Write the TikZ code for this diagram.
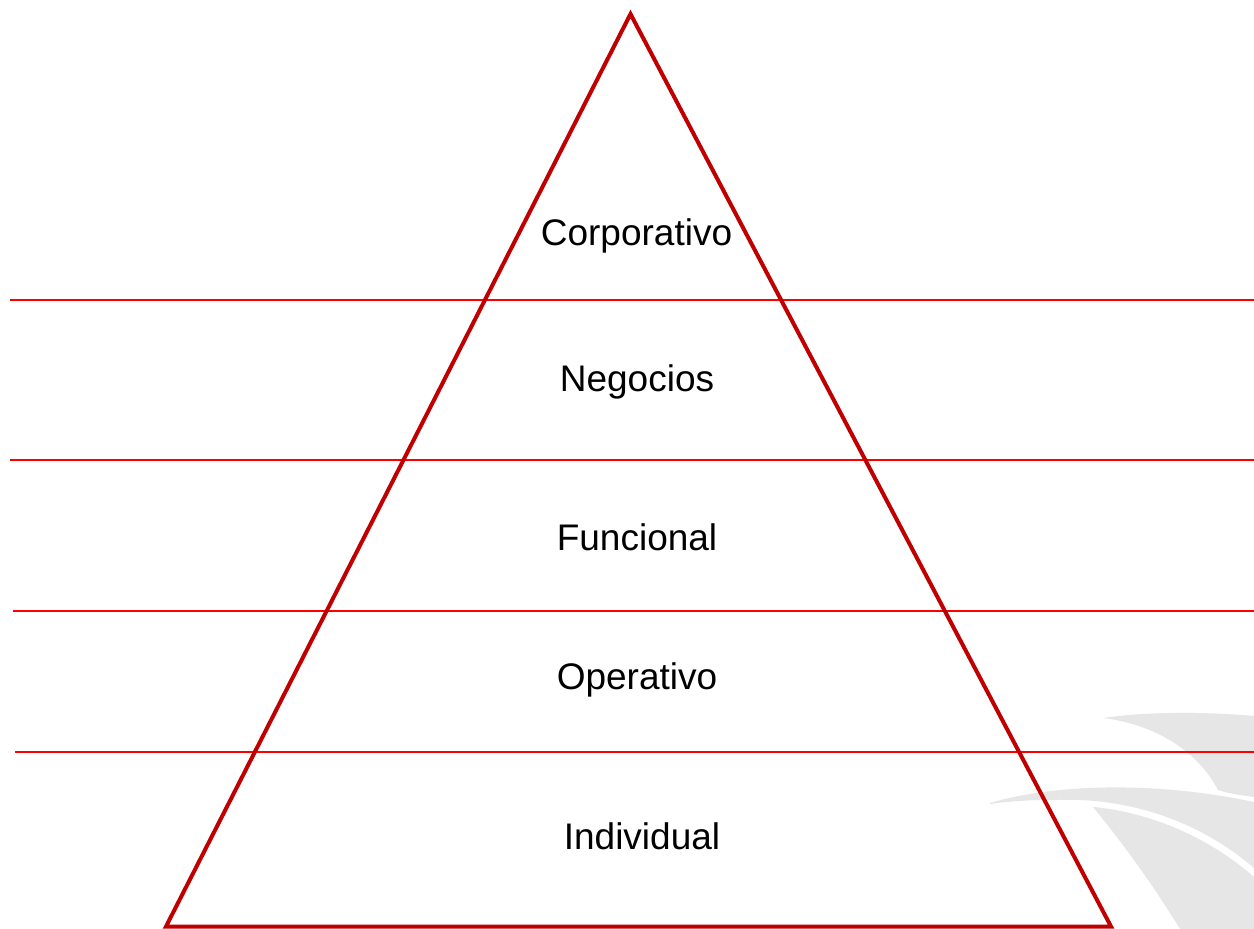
\documentclass[tikz,border=0pt]{standalone}
\usepackage{fontspec}
\setmainfont{Liberation Sans}
\definecolor{tri}{HTML}{C00000}
\definecolor{lvl}{HTML}{FF0000}
\definecolor{wm}{HTML}{E6E6E6}
\begin{document}
\begin{tikzpicture}[x=1pt,y=-1pt,
  levelline/.style={draw=lvl,line width=2pt},
  pyramid/.style={draw=tri,line width=4pt,line join=miter},
  label/.style={anchor=base,inner sep=0pt,font=\fontsize{37}{44}\selectfont},
  mark/.style={fill=wm,draw=none}]
\useasboundingbox[fill=white] (0,0) rectangle (1254,929);
% watermark swooshes
\fill[wm] (1103,718) .. controls (1150,711) and (1210,712) .. (1254,716)
  -- (1254,797) .. controls (1240,795) and (1226,793) .. (1218,790)
  .. controls (1200,755) and (1160,725) .. (1103,718) -- cycle;
\fill[wm] (990,803) .. controls (1050,785) and (1150,780) .. (1254,802)
  -- (1254,868) .. controls (1210,830) and (1150,803) .. (1080,800)
  .. controls (1040,799) and (1010,801) .. (990,804) -- cycle;
\fill[wm] (1093,807) .. controls (1150,812) and (1210,838) .. (1254,877)
  -- (1254,929) -- (1180,929) .. controls (1150,880) and (1120,840) .. (1093,807) -- cycle;
% level lines
\coordinate (l1a) at (10,300);   \coordinate (l1b) at (1254,300);
\coordinate (l2a) at (10,459.5); \coordinate (l2b) at (1254,459.5);
\coordinate (l3a) at (13,610.5); \coordinate (l3b) at (1254,610.5);
\coordinate (l4a) at (15,751.7); \coordinate (l4b) at (1254,751.7);
\draw[levelline] (l1a) -- (l1b);
\draw[levelline] (l2a) -- (l2b);
\draw[levelline] (l3a) -- (l3b);
\draw[levelline] (l4a) -- (l4b);
% pyramid
\coordinate (apex) at (630.5,14);
\coordinate (bl) at (166,926.5);
\coordinate (br) at (1111,926.5);
\draw[pyramid] (apex) -- (bl) -- (br) -- cycle;
% labels
\node[label] (corp) at (636.5,245.3) {Corporativo};
\node[label] (neg) at (637,391.7) {Negocios};
\node[label] (fun) at (637,550) {Funcional};
\node[label] (ope) at (637,689) {Operativo};
\node[label] (ind) at (642,849) {Individual};
\end{tikzpicture}
\end{document}
